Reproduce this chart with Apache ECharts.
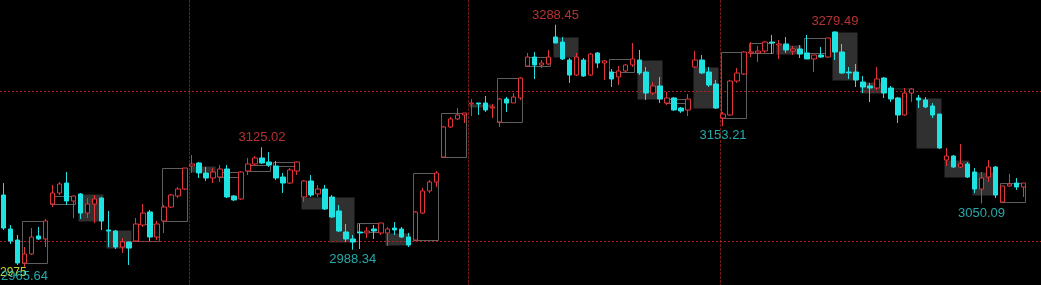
<!DOCTYPE html>
<html><head><meta charset="utf-8">
<script src="https://cdn.jsdelivr.net/npm/echarts@6/dist/echarts.min.js"></script>
<style>html,body{margin:0;padding:0;background:#000;overflow:hidden}#c{width:1041px;height:285px}</style>
</head><body><div id="c"></div>
<script>
const opens = [3061.3,3016.0,3001.3,2970.7,2982.7,3006.7,3002.7,3049.3,3064.0,3077.3,
3053.3,3062.7,3037.3,3049.3,3057.3,3014.7,3013.3,2992.0,2998.7,3000.0,
3021.3,3038.7,3005.3,3026.7,3045.3,3060.0,3069.3,3100.0,3104.0,3090.7,
3084.0,3085.3,3096.0,3060.0,3056.0,3093.3,3102.7,3110.7,3105.3,3100.0,
3085.3,3077.3,3093.3,3058.7,3080.0,3062.7,3069.3,3058.7,3040.0,3012.0,
3002.7,3012.0,3010.7,3016.0,3010.7,3010.7,3017.3,3016.0,3005.3,3001.3,
3037.3,3066.7,3078.7,3112.0,3152.0,3162.7,3168.0,3182.7,3184.0,3184.0,
3177.3,3158.7,3189.3,3184.0,3190.7,3233.3,3245.3,3234.7,3236.0,3272.0,
3265.3,3241.3,3221.3,3241.3,3221.3,3250.7,3237.3,3225.3,3218.7,3226.7,
3234.7,3241.3,3225.3,3197.3,3206.7,3184.0,3190.7,3177.3,3174.7,3232.0,
3241.3,3225.3,3209.3,3164.0,3168.0,3213.3,3222.7,3250.7,3250.7,3253.3,
3265.3,3261.3,3262.7,3253.3,3256.0,3250.7,3242.7,3248.0,3245.3,3278.7,
3252.0,3225.3,3225.3,3212.0,3206.7,3204.0,3217.3,3204.0,3190.7,3168.0,
3197.3,3190.7,3188.0,3180.0,3169.3,3108.0,3113.3,3098.7,3102.7,3092.0,
3069.3,3085.3,3098.7,3052.0,3073.3,3077.3,3072.0];
const closes = [3017.3,3000.0,2970.7,2982.7,3005.3,3002.7,3026.7,3064.0,3076.0,3053.3,
3060.0,3037.3,3049.3,3056.0,3026.7,3013.3,2992.0,2998.7,2990.7,3022.7,
3037.3,3005.3,3022.7,3045.3,3061.3,3069.3,3097.3,3102.7,3090.7,3084.0,
3092.0,3096.0,3058.7,3054.7,3092.0,3102.7,3110.7,3104.0,3101.3,3084.0,
3077.3,3094.7,3105.3,3080.0,3061.3,3069.3,3042.7,3032.0,3013.3,3002.7,
2998.7,3010.7,3013.3,3013.3,3024.0,3016.0,3014.7,3005.3,2994.7,3038.7,
3066.7,3078.7,3090.7,3152.0,3162.7,3168.0,3170.7,3184.0,3182.7,3174.7,
3178.7,3189.3,3184.0,3192.0,3217.3,3245.3,3234.7,3237.3,3245.3,3264.0,
3242.7,3221.3,3245.3,3220.0,3249.3,3237.3,3240.0,3216.0,3226.7,3234.7,
3242.7,3224.0,3197.3,3206.7,3189.3,3190.7,3174.7,3173.3,3189.3,3241.3,
3224.0,3208.0,3177.3,3169.3,3213.3,3224.0,3252.0,3252.0,3253.3,3265.3,
3264.0,3262.7,3254.7,3256.0,3249.3,3242.7,3248.0,3245.3,3270.7,3252.0,
3224.0,3224.0,3214.7,3205.3,3204.0,3216.0,3197.3,3189.3,3168.0,3197.3,
3202.7,3188.0,3178.7,3168.0,3124.0,3113.3,3098.7,3102.7,3085.3,3069.3,
3084.0,3098.7,3061.3,3073.3,3076.0,3072.0,3077.3];
const lows = [3014.7,2996.0,2968.0,2965.64,2981.3,3001.3,2992.0,3045.3,3061.3,3048.0,
3030.7,3029.3,3030.7,3024.0,3014.7,2992.0,2989.3,2984.0,2968.0,2999.3,
3018.7,3000.0,3001.3,3010.7,3044.0,3057.3,3068.0,3090.7,3084.0,3080.0,
3077.3,3078.7,3057.3,3053.3,3054.7,3088.0,3100.0,3102.7,3098.7,3081.3,
3064.0,3076.0,3088.0,3052.0,3058.7,3058.7,3041.3,3030.7,3012.0,2998.7,
2988.34,2989.3,3004.0,3002.7,3008.0,2993.3,3008.0,3004.0,2992.0,3000.0,
3036.0,3064.0,3072.0,3110.7,3150.7,3161.3,3157.3,3166.7,3168.0,3172.0,
3164.0,3152.0,3172.0,3184.0,3188.0,3232.0,3216.0,3230.7,3234.7,3264.0,
3241.3,3210.7,3220.0,3218.7,3220.0,3230.7,3214.7,3205.3,3208.0,3225.3,
3232.0,3221.3,3188.0,3194.7,3184.0,3181.3,3173.3,3170.7,3166.7,3230.7,
3222.7,3205.3,3176.0,3153.21,3166.7,3210.7,3221.3,3245.3,3238.7,3250.7,
3249.3,3242.7,3250.7,3248.0,3244.0,3242.7,3225.3,3244.0,3244.0,3241.3,
3222.7,3216.0,3205.3,3197.3,3185.3,3201.3,3190.7,3185.3,3157.3,3166.7,
3185.3,3177.3,3177.3,3164.0,3122.7,3100.0,3097.3,3097.3,3084.0,3064.0,
3050.09,3078.7,3057.3,3051.3,3072.0,3068.0,3058.7];
const highs = [3077.3,3021.3,3008.0,2992.0,3017.3,3018.7,3029.3,3074.7,3078.7,3092.0,
3061.0,3064.0,3057.3,3061.3,3058.7,3040.0,3014.7,3004.0,2998.7,3030.7,
3049.3,3041.3,3026.7,3048.0,3062.7,3072.0,3097.3,3114.7,3105.3,3098.7,
3097.3,3101.3,3101.3,3061.3,3093.3,3110.7,3113.3,3125.02,3118.7,3106.7,
3090.7,3097.3,3106.0,3081.3,3088.0,3074.7,3074.7,3061.3,3048.0,3022.7,
3008.0,3022.7,3018.7,3021.3,3024.0,3018.7,3025.3,3018.7,3010.7,3040.0,
3070.7,3081.3,3093.3,3153.3,3165.3,3177.3,3170.7,3189.3,3184.0,3193.3,
3182.7,3190.7,3192.0,3197.3,3218.7,3250.7,3252.0,3241.3,3254.7,3288.45,
3272.0,3244.0,3250.7,3244.0,3250.7,3252.0,3241.3,3229.3,3233.3,3236.0,
3264.0,3254.7,3232.0,3212.0,3218.7,3198.7,3192.0,3178.7,3196.0,3253.3,
3248.0,3232.0,3214.7,3172.0,3214.7,3230.7,3253.3,3265.3,3260.0,3266.7,
3274.7,3268.0,3272.0,3260.0,3261.3,3274.7,3248.0,3258.7,3270.7,3279.49,
3262.7,3232.0,3236.0,3220.0,3210.7,3232.0,3218.7,3206.7,3192.0,3204.0,
3204.0,3194.7,3192.0,3184.0,3169.3,3124.0,3114.7,3129.3,3105.3,3097.3,
3092.0,3108.0,3100.0,3073.3,3089.3,3084.0,3077.3];
const weekStarts = [3,7,11,15,19,23,27,31,35,39,43,47,51,55,59,63,67,71,75,79,83,87,91,95,99,103,107,111,115,119,123,127,131,135,139,143];
const periodStarts = [27,67,103];
const priceLevels = [3000,3200];
const highMarks = [37,79,119];
const lowMarks = [3,50,103,140];
const cornerText = '2975';

const RED = '#e0363a', CYAN = '#1fe3e3';
const categories = opens.map((_, i) => String(i + 1));
const candles = opens.map((o, i) => [o, closes[i], lows[i], highs[i]]);
const weeks = weekStarts.map((s, k) => {
  const e = k + 1 < weekStarts.length ? weekStarts[k + 1] - 1 : opens.length - 1;
  return [s, e, opens[s], closes[e]];
});

const chart = echarts.init(document.getElementById('c'), null, {renderer: 'canvas'});
chart.setOption({
  backgroundColor: '#000',
  animation: false,
  grid: {left: -2, right: 14, top: 0, bottom: 0},
  xAxis: {type: 'category', data: categories, show: false, boundaryGap: true},
  yAxis: {type: 'value', min: 2941.33, max: 3321.33, show: false, splitLine: {show: false}},
  series: [
    {
      type: 'custom', z: 1, silent: true,
      encode: {x: [0, 1], y: [2, 3]},
      data: weeks,
      renderItem(params, api) {
        const s = api.value(0), e = api.value(1), o = api.value(2), c = api.value(3);
        const half = api.size([1, 0])[0] * 5 / 14;
        const pTop = api.coord([s, Math.max(o, c)]);
        const pBot = api.coord([e, Math.min(o, c)]);
        const x1 = Math.round(pTop[0] - half) + 0.5, x2 = Math.round(pBot[0] + half) - 0.5;
        const y1 = Math.round(pTop[1]) + 0.5, y2 = Math.round(pBot[1]) + 0.5;
        const up = c >= o;
        return {
          type: 'rect',
          shape: {x: x1, y: y1, width: x2 - x1, height: Math.max(y2 - y1, 1)},
          style: up ? {fill: null, stroke: '#5e5e5e', lineWidth: 1}
                    : {fill: '#303030', stroke: null}
        };
      }
    },
    {
      type: 'custom', z: 1, silent: true,
      data: periodStarts.map(k => [k]),
      encode: {x: 0},
      renderItem(params, api) {
        const k = api.value(0);
        const x = Math.round((api.coord([k - 1, 3000])[0] + api.coord([k, 3000])[0]) / 2) + 0.5;
        const cs = params.coordSys;
        return {
          type: 'line',
          shape: {x1: x, y1: cs.y, x2: x, y2: cs.y + cs.height},
          style: {stroke: '#721616', lineWidth: 1, lineDash: [3, 1]}
        };
      }
    },
    {
      type: 'custom', z: 1, silent: true,
      data: priceLevels.map(v => [0, v]),
      encode: {y: 1},
      renderItem(params, api) {
        const y = Math.round(api.coord([0, api.value(1)])[1]) + 0.5;
        return {
          type: 'line',
          shape: {x1: 0, y1: y, x2: api.getWidth(), y2: y},
          style: {stroke: '#b81e1e', lineWidth: 1, lineDash: [2, 2]}
        };
      }
    },
    {
      type: 'candlestick', z: 2,
      data: candles,
      barWidth: 5,
      itemStyle: {color: '#000', color0: CYAN, borderColor: RED, borderColor0: CYAN, borderWidth: 1}
    },
    {
      type: 'scatter', z: 3, silent: true, symbolSize: 0,
      data: highMarks.map(i => [i, highs[i]]),
      label: {show: true, position: 'top', distance: 3, color: '#e33e3e', fontSize: 13,
        fontFamily: 'Liberation Sans, Arial, sans-serif', formatter: p => p.value[1].toFixed(2)}
    },
    {
      type: 'scatter', z: 3, silent: true, symbolSize: 0,
      data: lowMarks.map(i => [i, lows[i]]),
      label: {show: true, position: 'bottom', distance: 3, color: '#2fd2d2', fontSize: 13,
        fontFamily: 'Liberation Sans, Arial, sans-serif', formatter: p => p.value[1].toFixed(2)}
    }
  ],
  graphic: [{
    type: 'text', left: 0, top: 267, z: 2,
    style: {text: cornerText, fill: '#b9d23a', font: '12px Liberation Sans, Arial, sans-serif'}
  }]
});
</script>
</body></html>
